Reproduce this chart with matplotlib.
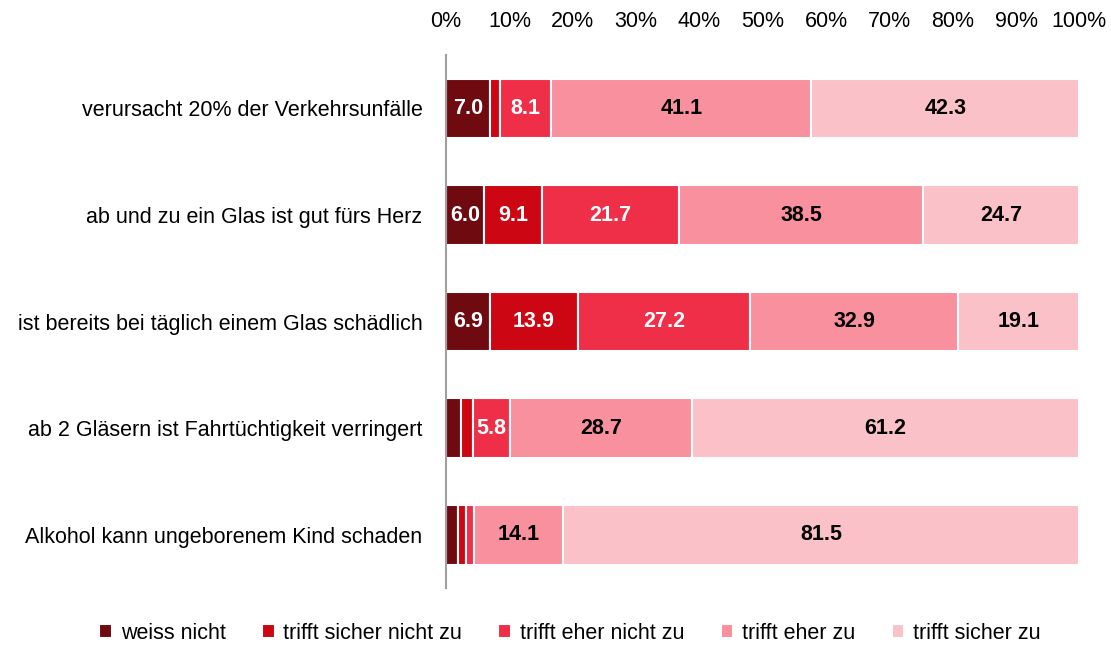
import matplotlib
matplotlib.use("Agg")
import matplotlib.pyplot as plt
import numpy as np

plt.rcParams['font.family'] = ['Liberation Sans Narrow', 'Liberation Sans', 'DejaVu Sans']

statements = [
    "verursacht 20% der Verkehrsunfälle",
    "ab und zu ein Glas ist gut fürs Herz",
    "ist bereits bei täglich einem Glas schädlich",
    "ab 2 Gläsern ist Fahrtüchtigkeit verringert",
    "Alkohol kann ungeborenem Kind schaden",
]
answers = ["weiss nicht", "trifft sicher nicht zu", "trifft eher nicht zu",
           "trifft eher zu", "trifft sicher zu"]

weiss_nicht = [7.0, 6.0, 6.9, 2.4, 1.9]
sicher_nicht = [1.5, 9.1, 13.9, 1.9, 1.2]
eher_nicht = [8.1, 21.7, 27.2, 5.8, 1.3]
eher_zu = [41.1, 38.5, 32.9, 28.7, 14.1]
sicher_zu = [42.3, 24.7, 19.1, 61.2, 81.5]

colors = ["#6e0a10", "#cc0612", "#ef2e48", "#f8909e", "#fbc1c8"]
text_colors = ["white", "white", "white", "black", "black"]

series = [weiss_nicht, sicher_nicht, eher_nicht, eher_zu, sicher_zu]

fig = plt.figure(figsize=(11.11, 6.49), dpi=100)
ax = fig.add_axes([0.4015, 0.094, 0.570, 0.821])

y = np.arange(len(statements))
left = np.zeros(len(statements))
for vals, name, col, tcol in zip(series, answers, colors, text_colors):
    vals = np.array(vals)
    ax.barh(y, vals, left=left, height=0.56, color=col,
            edgecolor="white", linewidth=1.5, label=name)
    for yi, l, v in zip(y, left, vals):
        if v >= 5:
            ax.text(l + v / 2, yi, "%.1f" % v, ha="center", va="center",
                    color=tcol, fontsize=15.5, fontweight="bold")
    left += vals

ax.set_xlim(0, 100)
ax.set_ylim(len(statements) - 0.5, -0.5)
ax.set_yticks(y)
ax.set_yticklabels(statements, fontsize=15.5)
ax.set_xticks(np.arange(0, 101, 10))
ax.set_xticklabels(["%d%%" % v for v in range(0, 101, 10)], fontsize=15.5)
ax.xaxis.tick_top()
ax.tick_params(axis="both", length=0)
ax.tick_params(axis="x", pad=17)
ax.tick_params(axis="y", pad=17)
for s in ["top", "right", "bottom"]:
    ax.spines[s].set_visible(False)
ax.spines["left"].set_color("#a0a0a0")
ax.spines["left"].set_linewidth(1.5)

fig.legend(loc="lower center", bbox_to_anchor=(0.513, -0.022), ncol=5,
           frameon=False, fontsize=15.5, handlelength=0.6, handleheight=0.6,
           handletextpad=0.4, columnspacing=1.68)

fig.savefig("out.png", dpi=100)
